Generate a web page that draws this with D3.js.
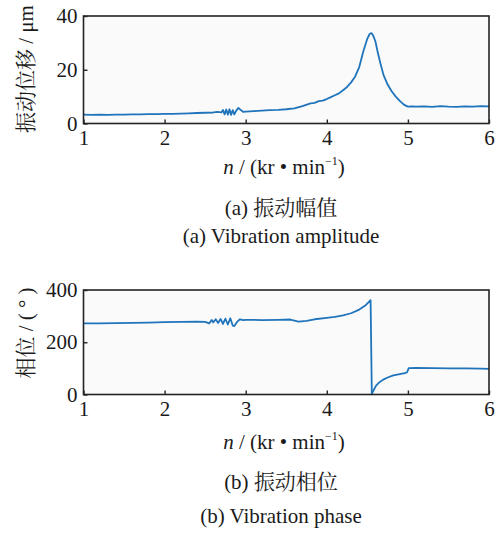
<!DOCTYPE html>
<html>
<head>
<meta charset="utf-8">
<script src="https://cdn.jsdelivr.net/npm/d3@7/dist/d3.min.js"></script>
<style>
  html, body { margin: 0; padding: 0; background: #ffffff; }
  svg { display: block; }
</style>
</head>
<body>
<svg id="fig" width="495" height="534"></svg>
<script>
// Speed axis (kr/min) and tick labels shared by both panels
const speedTicks = [1, 2, 3, 4, 5, 6];
const ampTicks = [0, 20, 40];
const phaseTicks = [0, 200, 400];

// (a) vibration amplitude, μm, versus speed
const ampSpeed = [1.00,1.10,1.20,1.30,1.40,1.50,1.60,1.70,1.80,1.90,2.00,2.10,2.20,2.30,2.40,2.50,2.60,2.65,
  2.70,2.72,2.74,2.76,2.78,2.80,2.82,2.84,2.86,2.88,2.91,2.94,2.97,3.00,3.10,3.20,3.30,3.40,3.50,3.60,
  3.70,3.80,3.85,3.90,3.95,4.00,4.05,4.10,4.15,4.20,4.25,4.30,4.35,4.40,4.45,4.50,4.53,4.55,4.57,4.60,
  4.63,4.66,4.70,4.75,4.80,4.85,4.90,4.95,5.00,5.05,5.10,5.20,5.30,5.40,5.50,5.60,5.70,5.80,5.90,6.00];
const ampValue = [3.3,3.2,3.3,3.2,3.3,3.3,3.4,3.4,3.5,3.5,3.6,3.6,3.7,3.8,3.9,4.0,4.1,4.3,
  4.1,5.0,3.4,5.2,3.3,5.3,3.2,5.0,3.4,4.6,5.8,5.0,4.3,4.4,4.6,4.8,5.0,5.1,5.3,5.6,
  6.5,7.5,7.7,8.3,8.5,9.1,9.8,10.5,11.2,12.4,13.6,15.3,17.5,21.0,26.8,31.6,33.4,33.6,32.9,30.5,
  26.2,22.5,18.0,14.5,12.0,10.0,8.4,7.0,6.3,6.4,6.3,6.4,6.2,6.5,6.3,6.2,6.4,6.3,6.5,6.4];

// (b) vibration phase, degrees, versus speed
const phaseSpeed = [1.00,1.20,1.40,1.60,1.80,2.00,2.20,2.40,2.50,2.55,2.58,2.60,2.63,2.66,2.69,2.72,2.75,
  2.78,2.81,2.84,2.86,2.90,2.93,2.97,3.00,3.20,3.40,3.55,3.65,3.75,3.85,4.00,4.10,4.20,4.30,4.40,4.48,
  4.54,4.555,4.58,4.61,4.65,4.69,4.75,4.82,4.90,4.96,4.99,5.01,5.10,5.30,5.50,5.70,5.90,6.00];
const phaseValue = [272,272,273,274,275,277,278,279,278,272,285,276,288,274,289,270,290,
  268,292,264,262,280,288,285,286,285,286,287,279,282,288,293,297,303,311,325,342,
  361,3,18,35,47,56,65,73,78,82,85,101,102,101,100,100,99,98];

const svg = d3.select("#fig");
const lineColor = "#1f74bb";
const frameColor = "#232323";
const textColor = "#1a1a1a";
const LATIN = '"Liberation Serif"';
const CJK = '"Noto Serif CJK SC"';

// text made of runs, each run [string, family, extra attrs]
function richText(parent, x, y, runs, anchor, transform) {
  const t = parent.append("text")
    .attr("x", x).attr("y", y)
    .attr("text-anchor", anchor || "middle")
    .attr("font-size", 21)
    .attr("fill", textColor);
  if (transform) t.attr("transform", transform);
  runs.forEach(([s, fam, extra]) => {
    const sp = t.append("tspan").style("font-family", fam).text(s);
    if (extra) Object.entries(extra).forEach(([k, v]) => sp.attr(k, v));
  });
  return t;
}

function panel(opts) {
  const { top, bottom, left, right, yDomain, yTicks, xs, ys, yLabel, yLabelY,
          xLabelY, zhTitle, zhY, enTitle, enY } = opts;

  const x = d3.scaleLinear().domain([1, 6]).range([left, right]);
  const y = d3.scaleLinear().domain(yDomain).range([bottom, top]);
  const g = svg.append("g");

  g.append("rect")
    .attr("x", left).attr("y", top)
    .attr("width", right - left).attr("height", bottom - top)
    .attr("fill", "#fafafa");

  const line = d3.line().x(d => x(d[0])).y(d => y(d[1]));
  g.append("path")
    .datum(d3.zip(xs, ys))
    .attr("fill", "none")
    .attr("stroke", lineColor)
    .attr("stroke-width", 1.8)
    .attr("stroke-linejoin", "round")
    .attr("d", line);

  const xAxis = g.append("g")
    .attr("transform", `translate(0,${bottom})`)
    .call(d3.axisBottom(x).tickValues(speedTicks).tickFormat(d3.format("d"))
      .tickSizeInner(-4).tickSizeOuter(0).tickPadding(7));
  const yAxis = g.append("g")
    .attr("transform", `translate(${left},0)`)
    .call(d3.axisLeft(y).tickValues(yTicks).tickFormat(d3.format("d"))
      .tickSizeInner(-4).tickSizeOuter(0).tickPadding(6));

  [xAxis, yAxis].forEach(a => {
    a.attr("font-family", null).attr("font-size", null);
    a.select(".domain").remove();
    a.selectAll(".tick line").attr("stroke", frameColor).attr("stroke-width", 1.4);
    a.selectAll(".tick text").attr("font-size", 21).attr("fill", textColor)
      .style("font-family", LATIN);
  });

  g.append("rect")
    .attr("x", left).attr("y", top)
    .attr("width", right - left).attr("height", bottom - top)
    .attr("fill", "none")
    .attr("stroke", frameColor)
    .attr("stroke-width", 1.6);

  // rotated y-axis title
  richText(g, 0, 0, yLabel, "middle", `translate(33,${yLabelY}) rotate(-90)`);

  // x-axis title: n / (kr • min⁻¹)
  richText(g, 284, xLabelY, [
    ["n", LATIN, { "font-style": "italic" }],
    [" / (kr • min", LATIN],
    ["−1", LATIN, { "font-size": 12, dy: -9 }],
    [")", LATIN, { dy: 9 }]
  ]);

  richText(g, 281, zhY, zhTitle);
  richText(g, 281, enY, [[enTitle, LATIN]]);
}

panel({
  top: 16, bottom: 123.5, left: 83.5, right: 489,
  yDomain: [0, 40], yTicks: ampTicks,
  xs: ampSpeed, ys: ampValue,
  yLabel: [["振动位移", CJK], [" / μm", LATIN]], yLabelY: 69,
  xLabelY: 174, zhTitle: [["(a)  ", LATIN], ["振动幅值", CJK]], zhY: 215,
  enTitle: "(a) Vibration amplitude", enY: 243
});

panel({
  top: 290, bottom: 394.5, left: 83.5, right: 489,
  yDomain: [0, 400], yTicks: phaseTicks,
  xs: phaseSpeed, ys: phaseValue,
  yLabel: [["相位", CJK], [" / ( ° )", LATIN]], yLabelY: 333,
  xLabelY: 449, zhTitle: [["(b)  ", LATIN], ["振动相位", CJK]], zhY: 489,
  enTitle: "(b) Vibration phase", enY: 523
});
</script>
</body>
</html>
